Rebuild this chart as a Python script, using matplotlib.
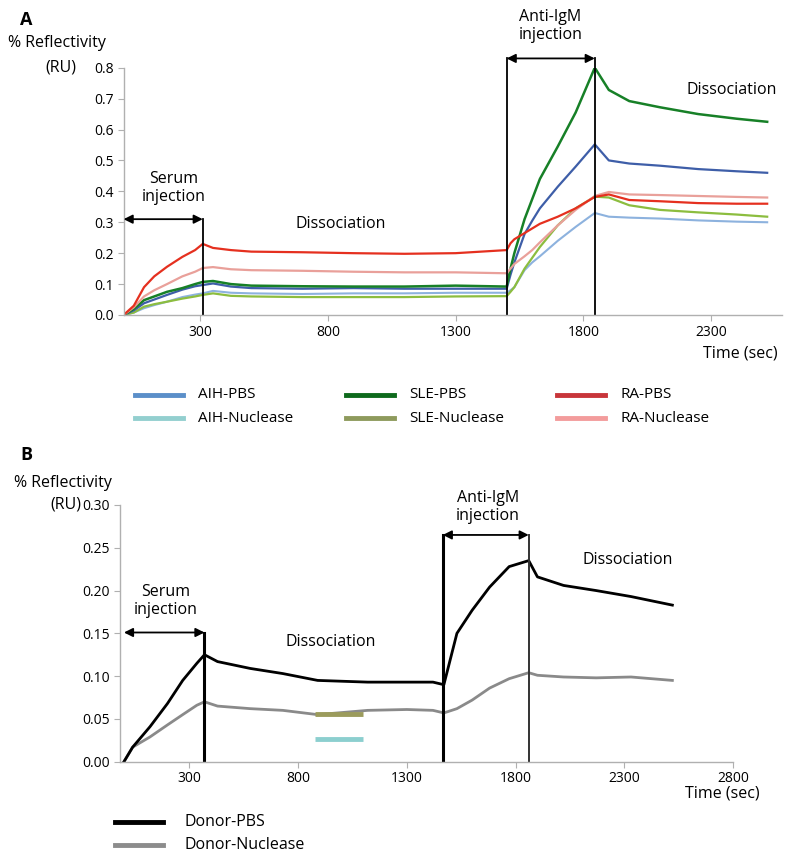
import matplotlib
matplotlib.use("Agg")
import matplotlib.pyplot as plt
from matplotlib.lines import Line2D

plt.rcParams['font.family'] = ['Open Sans', 'DejaVu Sans']

# ---- panel A data (time in sec, reflectivity in RU) ----
t_a = [0, 40, 80, 120, 170, 230, 280, 310, 350, 420, 500, 700, 900, 1100, 1300,
       1500, 1515, 1530, 1570, 1600, 1630, 1700, 1770, 1845, 1900, 1980, 2100, 2250, 2400, 2520]
ra_pbs = [0, 0.03, 0.09, 0.125, 0.156, 0.188, 0.21, 0.23, 0.217, 0.21, 0.205, 0.203, 0.2, 0.198, 0.2,
          0.21, 0.232, 0.245, 0.265, 0.28, 0.295, 0.318, 0.345, 0.382, 0.39, 0.372, 0.368, 0.362, 0.36, 0.36]
ra_nuc = [0, 0.025, 0.06, 0.08, 0.1, 0.125, 0.14, 0.152, 0.155, 0.148, 0.145, 0.143, 0.14, 0.138, 0.138,
          0.135, 0.15, 0.165, 0.19, 0.21, 0.235, 0.29, 0.34, 0.385, 0.398, 0.39, 0.388, 0.385, 0.382, 0.38]
sle_pbs = [0, 0.02, 0.048, 0.06, 0.075, 0.087, 0.1, 0.107, 0.11, 0.1, 0.095, 0.093, 0.092, 0.092, 0.095,
           0.092, 0.15, 0.2, 0.31, 0.375, 0.44, 0.545, 0.655, 0.8, 0.728, 0.692, 0.672, 0.65, 0.635, 0.625]
aih_pbs = [0, 0.015, 0.038, 0.05, 0.065, 0.082, 0.093, 0.097, 0.102, 0.092, 0.087, 0.085, 0.087, 0.085, 0.085,
           0.085, 0.13, 0.17, 0.262, 0.305, 0.345, 0.415, 0.48, 0.552, 0.5, 0.49, 0.483, 0.472, 0.465, 0.46]
aih_nuc = [0, 0.008, 0.022, 0.032, 0.043, 0.058, 0.066, 0.07, 0.078, 0.072, 0.07, 0.068, 0.07, 0.07, 0.072,
           0.072, 0.08, 0.09, 0.145, 0.17, 0.19, 0.24, 0.285, 0.33, 0.318, 0.315, 0.312, 0.306, 0.302, 0.3]
sle_nuc = [0, 0.008, 0.027, 0.035, 0.043, 0.053, 0.06, 0.065, 0.07, 0.062, 0.06, 0.058, 0.058, 0.058, 0.06,
           0.061, 0.075, 0.09, 0.15, 0.185, 0.22, 0.29, 0.345, 0.383, 0.38, 0.355, 0.34, 0.332, 0.325, 0.318]

# ---- panel B data ----
t_b = [0, 40, 120, 200, 270, 335, 370, 430, 580, 730, 890, 1120, 1300, 1420, 1470,
       1530, 1600, 1680, 1770, 1860, 1900, 2020, 2170, 2330, 2520]
donor_pbs = [0, 0.017, 0.041, 0.068, 0.095, 0.115, 0.125, 0.117, 0.109, 0.103, 0.095, 0.093, 0.093, 0.093, 0.09,
             0.15, 0.177, 0.204, 0.228, 0.235, 0.216, 0.206, 0.2, 0.193, 0.183]
donor_nuc = [0, 0.017, 0.029, 0.043, 0.055, 0.066, 0.07, 0.065, 0.062, 0.06, 0.055, 0.06, 0.061, 0.06, 0.057,
             0.062, 0.072, 0.086, 0.097, 0.104, 0.101, 0.099, 0.098, 0.099, 0.095]

ticks_a_x = [300, 800, 1300, 1800, 2300]
ticks_a_y = [0.0, 0.1, 0.2, 0.3, 0.4, 0.5, 0.6, 0.7, 0.8]
ticks_b_x = [300, 800, 1300, 1800, 2300, 2800]
ticks_b_y = [0.00, 0.05, 0.10, 0.15, 0.20, 0.25, 0.30]

legend_a = [("AIH-PBS", "#5b8fc9"), ("AIH-Nuclease", "#93cfcf"), ("SLE-PBS", "#0e6a1c"),
            ("SLE-Nuclease", "#8e9a5c"), ("RA-PBS", "#c8353a"), ("RA-Nuclease", "#f39c9c")]
legend_b = [("Donor-PBS", "black"), ("Donor-Nuclease", "#8c8c8c")]

W, H = 792, 859
fig = plt.figure(figsize=(W / 100, H / 100), dpi=100)


def box(left, top, right, bottom):
    return [left / W, 1 - bottom / H, (right - left) / W, (bottom - top) / H]


def style(ax):
    for s in ['top', 'right']:
        ax.spines[s].set_visible(False)
    for s in ['left', 'bottom']:
        ax.spines[s].set_color('#b0b0b0')
        ax.spines[s].set_linewidth(1.0)
    ax.tick_params(length=4, width=0.8, color='#b0b0b0', labelsize=10, pad=3)


def arrow(ax, x0, x1, y):
    ax.annotate('', xy=(x0, y), xytext=(x1, y),
                arrowprops=dict(arrowstyle='<|-|>', color='black', lw=1.3,
                                mutation_scale=13, shrinkA=0, shrinkB=0),
                annotation_clip=False)


# ---------------- panel A ----------------
ax1 = fig.add_axes(box(123.6, 67.7, 782.5, 315))
style(ax1)
ax1.plot(t_a, aih_nuc, color='#8db2de', lw=1.5)
ax1.plot(t_a, sle_nuc, color='#8cbd3f', lw=1.6)
ax1.plot(t_a, aih_pbs, color='#3e5ea8', lw=1.6)
ax1.plot(t_a, sle_pbs, color='#178027', lw=1.8)
ax1.plot(t_a, ra_nuc, color='#e9a09a', lw=1.6)
ax1.plot(t_a, ra_pbs, color='#e5301f', lw=1.6)
ax1.set_xlim(0, 2580)
ax1.set_ylim(0, 0.8)
ax1.set_xticks(ticks_a_x)
ax1.set_yticks(ticks_a_y)
ax1.set_yticklabels([f"{v:.1f}" for v in ticks_a_y])

for x, top in [(310, 0.31), (1500, 0.83), (1845, 0.83)]:
    ax1.plot([x, x], [0, top], color='black', lw=1.3, clip_on=False)
arrow(ax1, 0, 310, 0.31)
arrow(ax1, 1500, 1845, 0.83)
ax1.text(195, 0.41, "Serum\ninjection", ha='center', va='center', fontsize=11.5, linespacing=1.2)
ax1.text(850, 0.295, "Dissociation", ha='center', va='center', fontsize=11.5)
ax1.text(1672, 0.935, "Anti-IgM\ninjection", ha='center', va='center', fontsize=11.5,
         linespacing=1.2, clip_on=False)
ax1.text(2380, 0.728, "Dissociation", ha='center', va='center', fontsize=11.5)

fig.text(20 / W, 1 - 20 / H, "A", fontsize=13, fontweight='bold', va='center', ha='left')
fig.text(8 / W, 1 - 43 / H, "% Reflectivity", fontsize=11.5, va='center', ha='left')
fig.text(76 / W, 1 - 67 / H, "(RU)", fontsize=11.5, va='center', ha='right')
fig.text(778 / W, 1 - 353 / H, "Time (sec)", fontsize=11.5, va='center', ha='right')

# legend A drawn as handles in three columns
cols_x = [135, 346, 557]
rows_y = [395, 418]
for i, (lab, col) in enumerate(legend_a):
    cx = cols_x[i // 2]
    ry = rows_y[i % 2]
    fig.add_artist(Line2D([cx / W, (cx + 48) / W], [1 - ry / H, 1 - ry / H], color=col, lw=3.5))
    fig.text((cx + 63) / W, 1 - ry / H, lab, fontsize=11, va='center', ha='left')

# ---------------- panel B ----------------
ax2 = fig.add_axes(box(119.6, 505, 733.3, 761.7))
style(ax2)
ax2.plot(t_b, donor_nuc, color='#8a8a8a', lw=2.0)
ax2.plot(t_b, donor_pbs, color='black', lw=2.0)
ax2.set_xlim(-20, 2800)
ax2.set_ylim(0, 0.30)
ax2.set_xticks(ticks_b_x)
ax2.set_yticks(ticks_b_y)
ax2.set_yticklabels([f"{v:.2f}" for v in ticks_b_y])

ax2.plot([370, 370], [0, 0.15], color='black', lw=2.2)
ax2.plot([1465, 1465], [0, 0.265], color='black', lw=2.2)
ax2.plot([1860, 1860], [0, 0.265], color='#333333', lw=1.4)
arrow(ax2, 0, 370, 0.151)
arrow(ax2, 1465, 1860, 0.265)

# stray legend swatches visible inside the plot
ax2.plot([880, 1100], [0.056, 0.056], color='#9b9b5c', lw=3.5, solid_capstyle='butt')
ax2.plot([880, 1100], [0.027, 0.027], color='#8ccfcf', lw=3.5, solid_capstyle='butt')

ax2.text(190, 0.188, "Serum\ninjection", ha='center', va='center', fontsize=11.5, linespacing=1.2)
ax2.text(950, 0.14, "Dissociation", ha='center', va='center', fontsize=11.5)
ax2.text(1672, 0.298, "Anti-IgM\ninjection", ha='center', va='center', fontsize=11.5,
         linespacing=1.2, clip_on=False)
ax2.text(2313, 0.236, "Dissociation", ha='center', va='center', fontsize=11.5)

fig.text(20 / W, 1 - 455 / H, "B", fontsize=13, fontweight='bold', va='center', ha='left')
fig.text(14 / W, 1 - 483 / H, "% Reflectivity", fontsize=11.5, va='center', ha='left')
fig.text(81 / W, 1 - 505 / H, "(RU)", fontsize=11.5, va='center', ha='right')
fig.text(760 / W, 1 - 793 / H, "Time (sec)", fontsize=11.5, va='center', ha='right')

for i, (lab, col) in enumerate(legend_b):
    ry = [822, 845][i]
    fig.add_artist(Line2D([115 / W, 163 / W], [1 - ry / H, 1 - ry / H], color=col, lw=3.5))
    fig.text(185 / W, 1 - ry / H, lab, fontsize=11.5, va='center', ha='left')

fig.savefig("out.png", dpi=100)
